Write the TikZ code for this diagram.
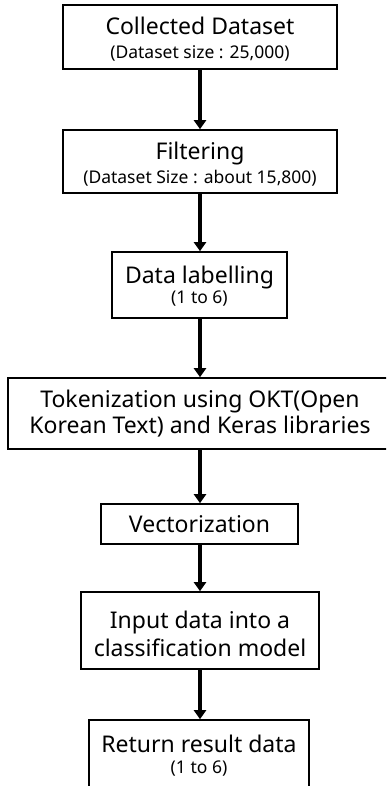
\documentclass[tikz,border=0pt]{standalone}
\usepackage{fontspec}
\setmainfont{Noto Sans}
\usetikzlibrary{arrows.meta}
\newcommand\mainf{\fontsize{23}{27}\selectfont}
\newcommand\subf{\fontsize{17.5}{24}\selectfont}
\newcommand\lift[1]{\rule{0pt}{#1}}
\begin{document}
\begin{tikzpicture}[x=1pt,y=-1pt,
  box/.style={draw=black, line width=1.6pt, rectangle, inner sep=0pt, align=center, text=black, font=\mainf},
  arr/.style={line width=4.5pt, -{Triangle[width=12pt,length=9pt]}}]
\useasboundingbox (0,0) rectangle (386,786);
\clip (0,0) rectangle (386,786);
\node[box, minimum width=274pt, minimum height=64pt] (b1) at (200,37)
  {\lift{22.5pt}Collected Dataset\\[-3pt]\subf (Dataset size : 25,000)};
\node[box, minimum width=274pt, minimum height=63pt] (b2) at (200,161.5)
  {\lift{22pt}Filtering\\[-3pt]\subf (Dataset Size : about 15,800)};
\node[box, minimum width=175pt, minimum height=66pt] (b3) at (199.5,285)
  {\lift{20.5pt}Data labelling\\[-7pt]\subf (1 to 6)};
\node[box, minimum width=384pt, minimum height=71pt] (b4) at (200,413.5)
  {Tokenization using OKT(Open\\[-1pt]Korean Text) and Keras libraries};
\node[box, minimum width=197pt, minimum height=40pt] (b5) at (199.5,524)
  {Vectorization};
\node[box, minimum width=238pt, minimum height=77pt] (b6) at (200,630.5)
  {\lift{24.5pt}Input data into a\\[1pt]classification model};
\node[box, minimum width=220pt, minimum height=68pt] (b7) at (199,754)
  {\lift{21.5pt}Return result data\\[-6pt]\subf (1 to 6)};
\draw[arr] (b1.south) -- (b2.north);
\draw[arr] (b2.south) -- (b2.south |- b3.north);
\draw[arr] (b3.south -| b2.south) -- (b2.south |- b4.north);
\draw[arr] (b4.south) -- (b4.south |- b5.north);
\draw[arr] (b5.south -| b4.south) -- (b4.south |- b6.north);
\draw[arr] (b6.south) -- (b6.south |- b7.north);
\end{tikzpicture}
\end{document}
